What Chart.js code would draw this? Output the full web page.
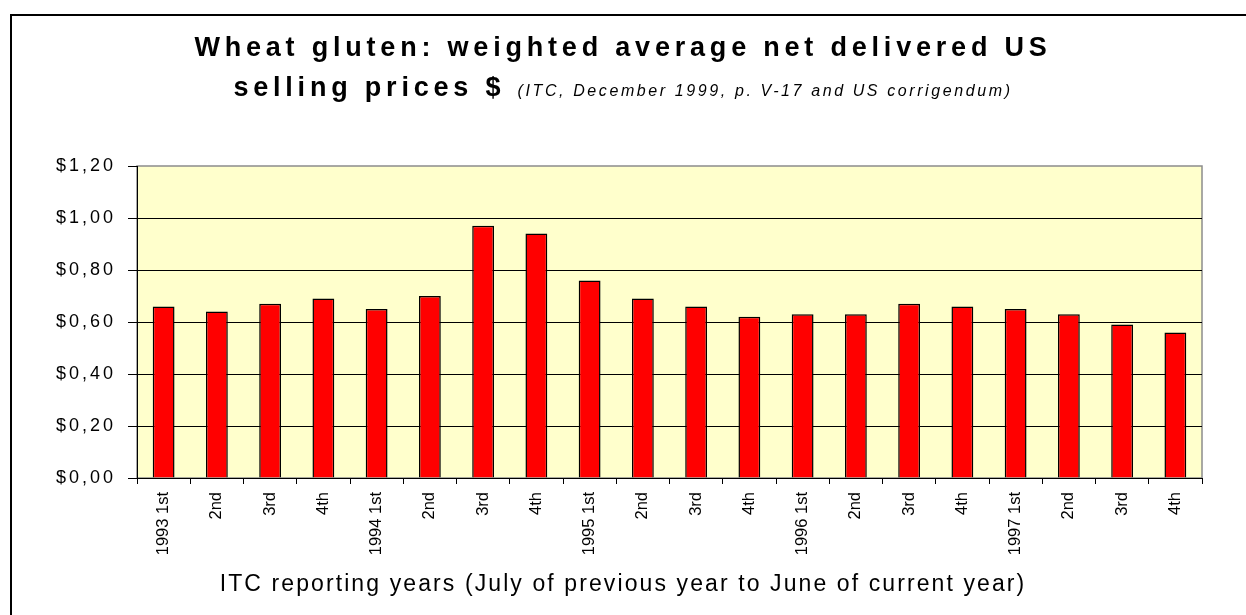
<!DOCTYPE html>
<html>
<head>
<meta charset="utf-8">
<script src="https://cdn.jsdelivr.net/npm/chart.js@4/dist/chart.umd.min.js"></script>
<style>
  html, body { margin: 0; padding: 0; background: #fff; }
  body { width: 1246px; height: 615px; position: relative; overflow: hidden; font-family: 'Liberation Sans', Arial, sans-serif; }
  #frame { position: absolute; left: 10px; top: 14px; width: 1400px; height: 800px; border-left: 2px solid #000; border-top: 2px solid #000; }
  #chart { position: absolute; left: 0; top: 0; }
  .title { position: absolute; left: 0; width: 1246px; text-align: center; white-space: nowrap; color: #000; }
  #t1 { top: 27px; line-height: 40px; font-size: 27px; font-weight: bold; letter-spacing: 4.8px; }
  #t2 { top: 67px; line-height: 40px; font-size: 27px; font-weight: bold; letter-spacing: 4.8px; }
  #t2 i { font-size: 16px; font-weight: normal; letter-spacing: 2.6px; }
  #xtitle { top: 568px; line-height: 30px; font-size: 23px; letter-spacing: 2.1px; }
</style>
</head>
<body>
<div id="frame"></div>
<canvas id="chart" width="1246" height="615"></canvas>
<div class="title" id="t1">Wheat gluten: weighted average net delivered US</div>
<div class="title" id="t2">selling prices $ <i>(ITC, December 1999, p. V-17 and US corrigendum)</i></div>
<div class="title" id="xtitle">ITC reporting years (July of previous year to June of current year)</div>
<script>
// quarters of the ITC reporting years
const quarters = [
  '1993 1st', '2nd', '3rd', '4th',
  '1994 1st', '2nd', '3rd', '4th',
  '1995 1st', '2nd', '3rd', '4th',
  '1996 1st', '2nd', '3rd', '4th',
  '1997 1st', '2nd', '3rd', '4th'
];
// price per quarter
const prices = [
  0.66, 0.64, 0.67, 0.69,
  0.65, 0.70, 0.97, 0.94,
  0.76, 0.69, 0.66, 0.62,
  0.63, 0.63, 0.67, 0.66,
  0.65, 0.63, 0.59, 0.56
];
const yMin = 0;
const yMax = 1.2;
const yStep = 0.2;

Chart.defaults.font.family = "'Liberation Sans', Arial, sans-serif";
Chart.defaults.color = '#000';

// linear scale whose tick labels get some letter spacing, like the old Excel chart
class SpacedLinear extends Chart.LinearScale {
  drawLabels(area){
    const ctx = this.ctx;
    ctx.save();
    ctx.letterSpacing = '3px';
    super.drawLabels(area);
    ctx.restore();
  }
}
SpacedLinear.id = 'spacedLinear';
SpacedLinear.defaults = Chart.LinearScale.defaults;
Chart.register(SpacedLinear);

// pale yellow plot area with grey frame
const plotBg = {
  id: 'plotBg',
  beforeDraw(chart){
    const {ctx, chartArea: a} = chart;
    ctx.save();
    ctx.fillStyle = '#FFFFCC';
    ctx.fillRect(a.left, a.top, a.width, a.height);
    ctx.strokeStyle = '#8c8c8c';
    ctx.lineWidth = 1.5;
    ctx.strokeRect(a.left, a.top, a.width, a.height);
    ctx.restore();
  }
};

new Chart(document.getElementById('chart').getContext('2d'), {
  type: 'bar',
  data: {
    labels: quarters,
    datasets: [{
      data: prices,
      backgroundColor: '#FF0000',
      borderColor: '#000',
      borderWidth: 1.5,
      barPercentage: 0.41,
      categoryPercentage: 1.0
    }]
  },
  options: {
    responsive: false,
    animation: false,
    layout: { padding: { top: 166, right: 44, bottom: 37, left: 0 } },
    plugins: { legend: { display: false }, tooltip: { enabled: false }, title: { display: false } },
    scales: {
      x: {
        type: 'category',
        offset: true,
        grid: { offset: true, drawOnChartArea: false, drawTicks: true, tickLength: 6, color: '#000', lineWidth: 1 },
        border: { color: '#000', width: 1 },
        ticks: { autoSkip: false, maxRotation: 90, minRotation: 90, padding: 8, color: '#000', font: { size: 16.5 } },
        afterFit(scale){ scale.height = 100; }
      },
      y: {
        type: 'spacedLinear',
        min: yMin,
        max: yMax,
        grid: {
          color: c => (c.tick && c.tick.value > yMax - 0.01) ? 'rgba(0,0,0,0)' : '#000',
          tickColor: '#000',
          tickLength: 9,
          lineWidth: 1
        },
        border: { color: '#000', width: 1 },
        ticks: {
          stepSize: yStep,
          padding: 12,
          color: '#000',
          font: { size: 18 },
          callback: v => '$' + Number(v).toFixed(2).replace('.', ',')
        },
        afterFit(scale){ scale.width = 137; }
      }
    }
  },
  plugins: [plotBg]
});
</script>
</body>
</html>
